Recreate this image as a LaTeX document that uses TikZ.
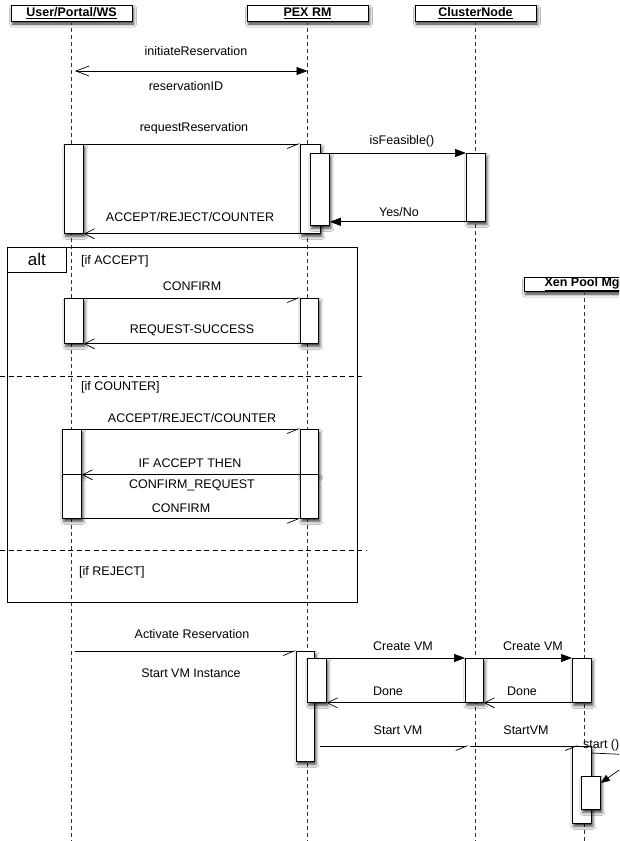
\documentclass[tikz,border=0pt]{standalone}
\usepackage{fontspec}
\setmainfont{Liberation Sans}
\usetikzlibrary{arrows.meta,shadows.blur}

\tikzset{
  lbl/.style={font=\fontsize{12.5}{14}\selectfont, inner sep=0pt},
  guard/.style={lbl, anchor=west},
  shade/.style={blur shadow={shadow xshift=1.5pt, shadow yshift=-3pt, shadow blur radius=3pt, shadow opacity=80}},
  head/.style={draw, fill=white, line width=0.8pt, shade, minimum width=121, minimum height=16,
    inner sep=0pt, font=\fontsize{12.5}{14}\selectfont\bfseries},
  act/.style={draw, fill=white, line width=0.8pt, shade, anchor=north west, inner sep=0pt, minimum width=19},
  life/.style={dash pattern=on 4pt off 3pt, line width=0.6pt, black!80},
  divider/.style={dash pattern=on 5pt off 3.5pt, line width=0.7pt},
  sync/.style={line width=0.7pt, -{Triangle[length=11pt,width=8pt]}},
  reply/.style={line width=0.7pt, -{Straight Barb[length=10pt,width=10pt]}},
  async/.style={line width=0.7pt, -{Straight Barb[right,length=11pt,width=9pt]}}
}

\begin{document}
\begin{tikzpicture}[x=1pt,y=-1pt]
    \clip (0,0) rectangle (619,841);
    \fill[white] (0,0) rectangle (619,841);
    \coordinate (bot) at (0,841);
    \coordinate (yInit) at (0,71);
    \coordinate (yAct) at (0,651);
    \coordinate (yStart) at (0,746);

    \node[head] (hUser) at (71.5,13) {\underline{User/Portal/WS}};
    \node[head] (hPex) at (307.5,13) {\underline{PEX RM}};
    \node[head] (hCluster) at (475.5,13) {\underline{ClusterNode}};
    \node[head, minimum height=14] (hXen) at (584.5,284) {\underline{Xen Pool Mgr}};
    \foreach \h in {hUser,hPex,hCluster,hXen}
        \draw[life] (\h.south) -- (\h.south |- bot);

    \draw[line width=0.7pt, {Straight Barb[length=13pt,width=10pt]}-{Triangle[length=11pt,width=8pt]}]
        ([xshift=3.5]hUser.south |- yInit) -- (hPex.south |- yInit);
    \node[lbl] (lInit) at (196,51) {initiateReservation};
    \node[lbl] (lResId) at (186,86) {reservationID};

    \node[act, minimum height=89] (u1) at (64,144) {};
    \node[act, minimum height=89, minimum width=20] (p1) at (300,144) {};
    \node[act, minimum height=72] (p1i) at (310,153) {};
    \node[act, minimum height=68] (c1) at (466,153) {};
    \draw[async] (u1.north east) -- (p1.north west);
    \node[lbl] (lReq) at (194,128) {requestReservation};
    \draw[sync] (p1i.north east) -- (c1.north west);
    \node[lbl] (lFeas) at (402,141) {isFeasible()};
    \draw[sync] (c1.south west) -- (c1.south west -| p1i.east);
    \node[lbl] (lYes) at (399,212) {Yes/No};
    \draw[reply] (p1.south west) -- (u1.south east);
    \node[lbl] (lArc) at (190,217) {ACCEPT/REJECT/COUNTER};

    \node[draw, line width=0.8pt, anchor=north west, minimum width=350, minimum height=355, inner sep=0pt] (alt) at (7,247) {};
    \node[draw, line width=0.8pt, anchor=north west, minimum width=59, minimum height=25, inner sep=0pt,
        font=\fontsize{17}{18}\selectfont] (altTab) at (alt.north west) {alt};
    \node[guard] (gAcc) at (81,261) {[if ACCEPT]};

    \node[act, minimum height=45] (u2) at (64,298) {};
    \node[act, minimum height=45, minimum width=18] (p2) at (300,298) {};
    \draw[async] (u2.north east) -- (p2.north west);
    \node[lbl] (lConf) at (192,286) {CONFIRM};
    \draw[reply] (p2.south west) -- (u2.south east);
    \node[lbl] (lSucc) at (192,330) {REQUEST-SUCCESS};
    \draw[divider] (0,376) -- (363,376);

    \node[guard] (gCnt) at (81,387) {[if COUNTER]};
    \node[act, minimum height=45] (u3a) at (62,429) {};
    \node[act, minimum height=44] (u3b) at (62,474) {};
    \node[act, minimum height=45, minimum width=18] (p3a) at (300,429) {};
    \node[act, minimum height=44, minimum width=18] (p3b) at (300,474) {};
    \draw[async] (u3a.north east) -- (p3a.north west);
    \node[lbl] (lArc2) at (192,418) {ACCEPT/REJECT/COUNTER};
    \draw[reply] (p3a.south west) -- (u3a.south east);
    \node[lbl] (lThen) at (190,463) {IF ACCEPT THEN};
    \node[lbl] (lCreq) at (192,485) {CONFIRM\_REQUEST};
    \draw[async] (u3b.south east) -- (p3b.south west);
    \node[lbl] (lConf2) at (181,508) {CONFIRM};
    \draw[divider] (0,550) -- (366,550);
    \node[guard] (gRej) at (79,572) {[if REJECT]};

    \node[act, minimum height=110, minimum width=18] (p4) at (296,651) {};
    \node[act, minimum height=44] (p4i) at (307,658) {};
    \node[act, minimum height=44, minimum width=18] (c4) at (465,658) {};
    \node[act, minimum height=44] (x4) at (572,658) {};
    \draw[async] ([xshift=3.5]hUser.south |- yAct) -- (p4.north west);
    \node[lbl] (lAct) at (192,634) {Activate Reservation};
    \node[lbl] (lInst) at (191,673) {Start VM Instance};
    \draw[sync] (p4i.north east) -- (c4.north west);
    \node[lbl] (lCre1) at (403,646) {Create VM};
    \draw[sync] (c4.north east) -- (x4.north west);
    \node[lbl] (lCre2) at (533,646) {Create VM};
    \draw[reply] (c4.south west) -- (p4i.south east);
    \node[lbl] (lDone1) at (388,691) {Done};
    \draw[reply] (x4.south west) -- (c4.south east);
    \node[lbl] (lDone2) at (522,691) {Done};

    \node[act, minimum height=77] (x4b) at (572,746) {};
    \node[act, minimum height=33] (x4i) at (581,776) {};
    \draw[async] ([xshift=5]p4.east |- yStart) -- ([xshift=-7]hCluster.south |- yStart);
    \draw[async] ([xshift=-6]hCluster.south |- yStart) -- ([xshift=6]x4b.north west);
    \node[lbl] (lStart1) at (398,730) {Start VM};
    \node[lbl] (lStart2) at (526,730) {StartVM};
    \node[guard] (lSelf) at (583,745) {start ()};
    \draw[line width=0.7pt, -{Triangle[length=9pt,width=7pt]}]
        ([yshift=-7]x4b.north east) -- (636,755) -- (636,758) -- ([yshift=-7]x4i.north east);
\end{tikzpicture}
\end{document}
